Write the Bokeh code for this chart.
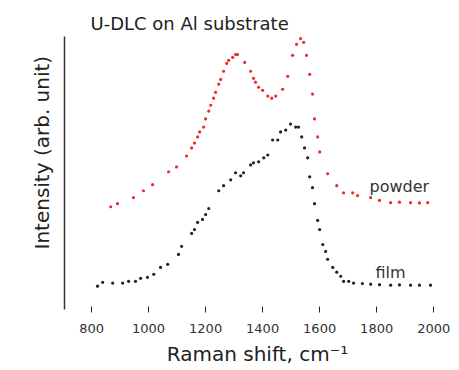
from bokeh.plotting import figure
from bokeh.models import Label, Range1d, FixedTicker, Title
from bokeh.embed import file_html
from bokeh.resources import INLINE

# Raman spectra (arbitrary intensity units)
powder_shift = [867, 891, 947, 982, 1014, 1070, 1098, 1133, 1151, 1161, 1172, 1179, 1193, 1200,
                1211, 1218, 1228, 1235, 1246, 1253, 1263, 1274, 1281, 1295, 1305, 1312, 1337,
                1358, 1368, 1375, 1386, 1400, 1418, 1432, 1446, 1470, 1488, 1505, 1519, 1533,
                1544, 1554, 1565, 1575, 1582, 1593, 1600, 1628, 1660, 1684, 1716, 1733, 1779,
                1810, 1849, 1880, 1919, 1950, 1979]
powder_int = [0.325, 0.337, 0.361, 0.388, 0.412, 0.463, 0.482, 0.525, 0.557, 0.576, 0.600, 0.620,
              0.639, 0.671, 0.702, 0.725, 0.753, 0.776, 0.808, 0.827, 0.859, 0.890, 0.902, 0.914,
              0.925, 0.925, 0.894, 0.859, 0.831, 0.816, 0.796, 0.784, 0.761, 0.753, 0.761, 0.788,
              0.839, 0.922, 0.965, 0.988, 0.973, 0.922, 0.847, 0.769, 0.671, 0.600, 0.541, 0.455,
              0.408, 0.380, 0.380, 0.369, 0.361, 0.350, 0.341, 0.343, 0.341, 0.340, 0.341]

film_shift = [821, 839, 874, 909, 930, 954, 972, 996, 1018, 1042, 1067, 1105, 1116, 1151, 1161,
              1172, 1189, 1200, 1211, 1246, 1263, 1288, 1305, 1323, 1333, 1358, 1368, 1386, 1404,
              1418, 1435, 1453, 1463, 1481, 1498, 1516, 1526, 1537, 1547, 1558, 1565, 1575, 1582,
              1593, 1600, 1611, 1621, 1628, 1646, 1660, 1674, 1684, 1702, 1719, 1750, 1779, 1810,
              1849, 1880, 1919, 1950, 1989]
film_int = [0.012, 0.027, 0.024, 0.024, 0.031, 0.031, 0.043, 0.047, 0.059, 0.086, 0.098, 0.137,
            0.169, 0.220, 0.235, 0.263, 0.275, 0.294, 0.318, 0.388, 0.408, 0.431, 0.459, 0.447,
            0.459, 0.490, 0.498, 0.502, 0.518, 0.529, 0.588, 0.588, 0.620, 0.627, 0.651, 0.639,
            0.639, 0.600, 0.557, 0.518, 0.443, 0.400, 0.337, 0.271, 0.235, 0.176, 0.149, 0.118,
            0.086, 0.067, 0.051, 0.031, 0.031, 0.024, 0.022, 0.020, 0.018, 0.016, 0.017, 0.016,
            0.016, 0.016]

x_ticks = [800, 1000, 1200, 1400, 1600, 1800, 2000]

FONT = "DejaVu Sans"

p = figure(width=458, height=368, output_backend="svg", toolbar_location=None,
           x_range=Range1d(705, 2059), y_range=Range1d(-0.080, 0.996),
           min_border_left=64, min_border_right=8, min_border_top=36, min_border_bottom=55)
p.outline_line_color = None
p.grid.visible = False
p.background_fill_color = "white"

p.title.text = "U-DLC on Al substrate"
p.title.align = "left"
p.title.offset = 26
p.title.standoff = 5
p.title.text_font = FONT
p.title.text_font_size = "18px"
p.title.text_font_style = "normal"
p.title.text_color = "#222222"

p.scatter(powder_shift, powder_int, size=3.2, color="#ee2b2b", line_color=None)
p.scatter(film_shift, film_int, size=3.2, color="#222222", line_color=None)

xa = p.xaxis[0]
xa.ticker = FixedTicker(ticks=x_ticks)
xa.axis_line_color = None
xa.major_tick_in = 3
xa.major_tick_out = 3
xa.minor_tick_line_color = None
xa.major_tick_line_color = "#222222"
xa.major_label_text_font = FONT
xa.major_label_text_font_size = "13px"
xa.major_label_text_color = "#333333"
xa.major_label_standoff = 11
xa.axis_label = "Raman shift, cm\u207b\u00b9"
xa.axis_label_text_font = FONT
xa.axis_label_text_font_size = "20px"
xa.axis_label_text_font_style = "normal"
xa.axis_label_text_color = "#222222"
xa.axis_label_standoff = 6

ya = p.yaxis[0]
ya.ticker = FixedTicker(ticks=[])
ya.axis_line_color = "#333333"
ya.axis_line_width = 1.5
ya.major_tick_line_color = None
ya.minor_tick_line_color = None

p.add_layout(Title(text="Intensity (arb. unit)", align="left", offset=60, standoff=21,
                   text_font=FONT, text_font_size="20px", text_font_style="normal",
                   text_color="#222222"), "left")

p.add_layout(Label(x=1775, y=0.404, text="powder", text_align="left",
                   text_baseline="alphabetic", text_font=FONT, text_font_size="16px",
                   text_color="#333333"))
p.add_layout(Label(x=1796, y=0.067, text="film", text_align="left",
                   text_baseline="alphabetic", text_font=FONT, text_font_size="16px",
                   text_color="#333333"))

open("out.html", "w").write(file_html(p, INLINE))
